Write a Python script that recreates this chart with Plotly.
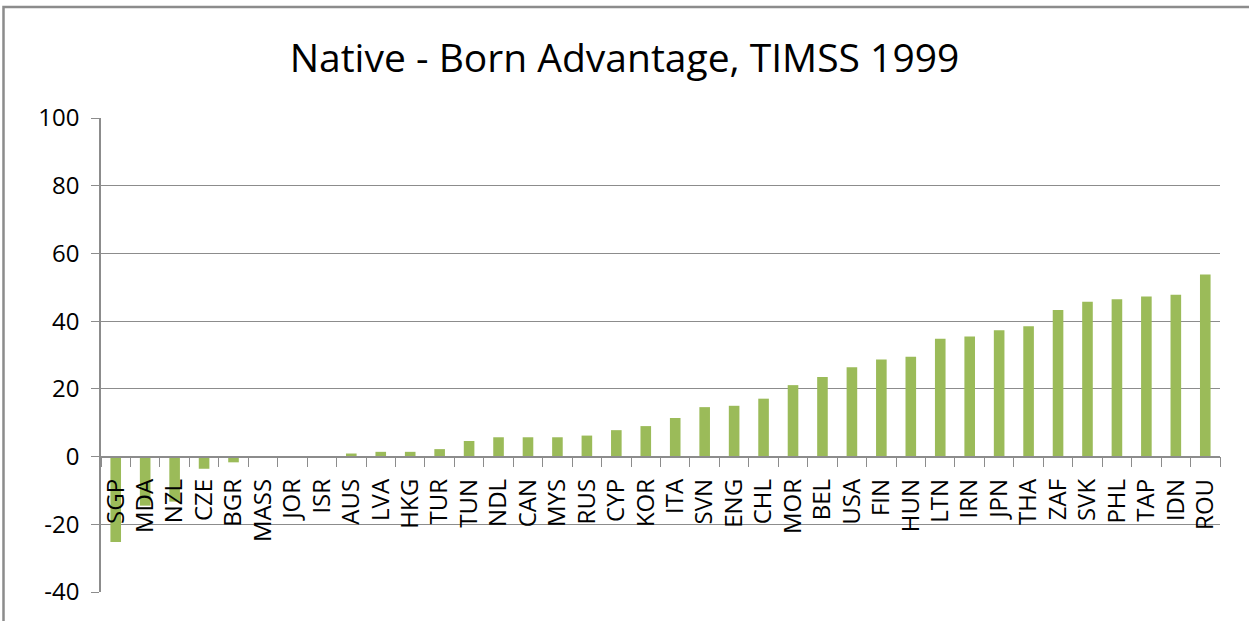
import plotly.graph_objects as go

# country codes, ordered as in the chart
countries = [
    'SGP', 'MDA', 'NZL', 'CZE', 'BGR', 'MASS', 'JOR', 'ISR', 'AUS', 'LVA',
    'HKG', 'TUR', 'TUN', 'NDL', 'CAN', 'MYS', 'RUS', 'CYP', 'KOR', 'ITA',
    'SVN', 'ENG', 'CHL', 'MOR', 'BEL', 'USA', 'FIN', 'HUN', 'LTN', 'IRN',
    'JPN', 'THA', 'ZAF', 'SVK', 'PHL', 'TAP', 'IDN', 'ROU',
]
advantage = [
    -25.2, -14.5, -13.3, -3.6, -1.7, 0, 0, 0, 0.9, 1.4,
    1.4, 2.2, 4.6, 5.7, 5.7, 5.7, 6.2, 7.8, 9.0, 11.4,
    14.6, 15.0, 17.1, 21.1, 23.5, 26.4, 28.7, 29.5, 34.8, 35.5,
    37.3, 38.5, 43.3, 45.7, 46.5, 47.3, 47.8, 53.8,
]
y_ticks = [-40, -20, 0, 20, 40, 60, 80, 100]

title = 'Native - Born Advantage, TIMSS 1999'
font = 'Open Sans'
grey = '#8c8c8c'

fig = go.Figure(go.Bar(x=countries, y=advantage, marker_color='#9bbb59',
                       marker_line_width=0))

fig.update_layout(
    width=1249, height=621,
    margin=dict(l=101, r=29, t=118, b=29),
    paper_bgcolor='white', plot_bgcolor='white',
    bargap=0.64,
    showlegend=False,
    font=dict(family=font, size=24, color='#000000'),
    title=dict(text=title, x=0.5, xref='container', xanchor='center',
               y=1 - 58 / 621, yanchor='middle',
               font=dict(family=font, size=39, color='#000000')),
)

# category axis sits on the zero line, as in the spreadsheet original
fig.update_xaxes(
    anchor='free', position=40 / 140,
    showline=True, linecolor=grey, linewidth=1.5,
    ticks='outside', tickson='boundaries', ticklen=10, tickcolor=grey,
    tickangle=-90, ticklabelstandoff=12,
    showgrid=False,
)
fig.update_yaxes(
    range=[-40, 100], tickvals=y_ticks,
    ticktext=[str(v) for v in y_ticks],  # plain hyphen minus, like the original
    showline=True, linecolor=grey, linewidth=1.5,
    ticks='outside', ticklen=8, tickcolor=grey, ticklabelstandoff=7,
    showgrid=True, gridcolor=grey, gridwidth=1.2,
    zeroline=False,
)

# outer chart border (runs off the right and bottom edges)
fig.add_shape(type='rect', xref='paper', yref='paper',
              x0=(3.5 - 101) / 1119, x1=1 + 60 / 1119,
              y0=-60 / 474, y1=1 + (118 - 7) / 474,
              line=dict(color=grey, width=2.5), layer='above')

# drop the browser's default body margin so the figure starts at the corner
fig.write_html('out.html', config={'displayModeBar': False},
               post_script="document.body.style.margin = '0';")
